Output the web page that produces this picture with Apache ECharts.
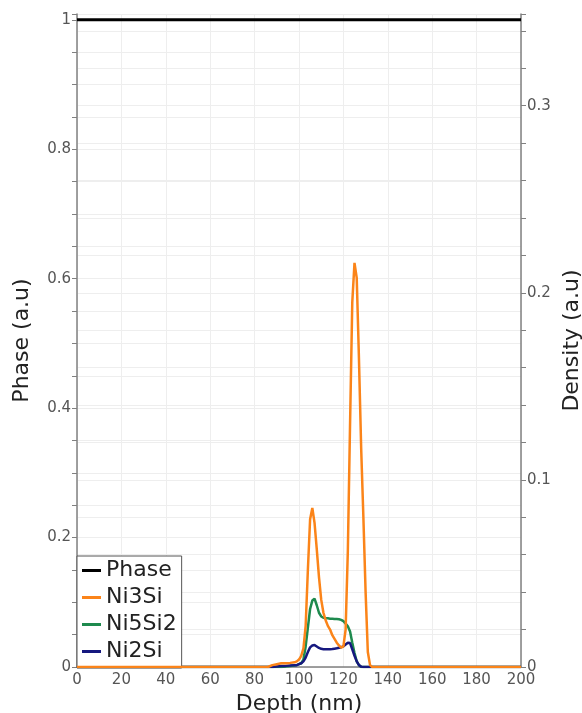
<!DOCTYPE html>
<html>
<head>
<meta charset="utf-8">
<script src="https://cdn.jsdelivr.net/npm/echarts/dist/echarts.min.js"></script>
<style>
  html, body { margin: 0; padding: 0; background: #fff; }
  #chart { width: 582px; height: 713px; }
</style>
</head>
<body>
<div id="chart"></div>
<script>
// depth in nm, shared by the three density curves
const depth = [0, 86, 88, 90, 92, 94, 96, 98, 99, 100, 101, 102, 103, 104, 105, 106, 107, 108, 109, 110,
  111, 112, 113, 114, 115, 116, 117, 118, 119, 120, 121, 122, 123, 124, 125, 126, 127, 128, 129, 130,
  131, 132, 133, 200];

const ni3si = [0, 0, 0.001, 0.0015, 0.002, 0.002, 0.0022, 0.0025, 0.003, 0.004, 0.006, 0.01, 0.022, 0.052, 0.079, 0.085, 0.077, 0.063, 0.048, 0.036,
  0.029, 0.025, 0.022, 0.02, 0.017, 0.015, 0.013, 0.0115, 0.0103, 0.011, 0.02, 0.062, 0.13, 0.195, 0.216, 0.208, 0.165, 0.117, 0.08, 0.04,
  0.008, 0.001, 0, 0];

const ni5si2 = [0, 0, 0, 0, 0, 0.0003, 0.0005, 0.0008, 0.001, 0.0015, 0.002, 0.004, 0.011, 0.021, 0.031, 0.0355, 0.0365, 0.033, 0.029, 0.027,
  0.0263, 0.026, 0.026, 0.0258, 0.0258, 0.0257, 0.0256, 0.0255, 0.0252, 0.0245, 0.0232, 0.0218, 0.019, 0.013, 0.0075, 0.003, 0.001, 0, 0, 0,
  0, 0, 0, 0];

const ni2si = [0, 0, 0, 0.0003, 0.0005, 0.0006, 0.0008, 0.001, 0.001, 0.0015, 0.002, 0.003, 0.005, 0.008, 0.0105, 0.0115, 0.0118, 0.011, 0.0102, 0.0097,
  0.0095, 0.0095, 0.0095, 0.0095, 0.0096, 0.0098, 0.01, 0.0103, 0.0106, 0.011, 0.012, 0.013, 0.0128, 0.0095, 0.006, 0.003, 0.001, 0.0002, 0, 0,
  0, 0, 0, 0];

const phaseDepth = [0, 200];
const phase = [1, 1];

const font = 'DejaVu Sans';
const gridColor = '#eeeeee';
const axisColor = '#808080';

const pairs = (xs, ys) => xs.map((x, i) => [x, ys[i]]);

const chart = echarts.init(document.getElementById('chart'));

const option = {
  animation: false,
  textStyle: { fontFamily: font },
  grid: { left: 77, right: 61, top: 14, bottom: 46, outerBoundsMode: 'none', containLabel: false },
  legend: {
    orient: 'vertical',
    left: 77,
    top: 556,
    data: ['Phase', 'Ni3Si', 'Ni5Si2', 'Ni2Si'],
    icon: 'rect',
    itemWidth: 19,
    itemHeight: 3,
    itemGap: 0,
    padding: [1, 5, 3, 5],
    backgroundColor: '#fff',
    borderColor: '#555',
    borderWidth: 1,
    textStyle: { fontSize: 22, lineHeight: 27, color: '#222', fontFamily: font }
  },
  xAxis: {
    type: 'value',
    min: 0,
    max: 200,
    interval: 20,
    name: 'Depth (nm)',
    nameLocation: 'middle',
    nameGap: 26,
    nameTextStyle: { fontSize: 22, color: '#222', fontFamily: font },
    axisLine: { lineStyle: { color: axisColor, width: 1.5 } },
    axisTick: { show: false },
    axisLabel: { fontSize: 15, color: '#555', margin: 6 },
    splitLine: { show: true, lineStyle: { color: gridColor } }
  },
  yAxis: [
    {
      type: 'value',
      min: 0,
      max: 1.009,
      interval: 0.2,
      name: 'Phase (a.u)',
      nameLocation: 'middle',
      nameGap: 44,
      nameTextStyle: { fontSize: 22, color: '#222', fontFamily: font },
      axisLine: { show: true, lineStyle: { color: axisColor, width: 1.5 } },
      axisTick: { show: true, length: 5, lineStyle: { color: axisColor } },
      minorTick: { show: true, splitNumber: 4, length: 5, lineStyle: { color: axisColor } },
      axisLabel: { fontSize: 15, color: '#555', margin: 6, showMaxLabel: false },
      splitLine: { show: true, lineStyle: { color: gridColor } },
      minorSplitLine: { show: true, lineStyle: { color: gridColor } }
    },
    {
      type: 'value',
      min: 0,
      max: 0.349,
      interval: 0.1,
      position: 'right',
      name: 'Density (a.u)',
      nameLocation: 'middle',
      nameGap: 40,
      nameTextStyle: { fontSize: 22, color: '#222', fontFamily: font },
      axisLine: { show: true, lineStyle: { color: axisColor, width: 1.5 } },
      axisTick: { show: true, length: 5, lineStyle: { color: axisColor } },
      minorTick: { show: true, splitNumber: 5, length: 5, lineStyle: { color: axisColor } },
      axisLabel: { fontSize: 15, color: '#555', margin: 6, showMaxLabel: false },
      splitLine: { show: true, lineStyle: { color: gridColor } },
      minorSplitLine: { show: true, lineStyle: { color: gridColor } }
    }
  ],
  series: [
    {
      name: 'Phase',
      type: 'line',
      yAxisIndex: 0,
      showSymbol: false,
      z: 5,
      data: pairs(phaseDepth, phase),
      itemStyle: { color: '#000' },
      lineStyle: { color: '#000', width: 3 }
    },
    {
      name: 'Ni5Si2',
      type: 'line',
      yAxisIndex: 1,
      showSymbol: false,
      z: 2,
      data: pairs(depth, ni5si2),
      itemStyle: { color: '#1e8a4e' },
      lineStyle: { color: '#1e8a4e', width: 2.5 }
    },
    {
      name: 'Ni2Si',
      type: 'line',
      yAxisIndex: 1,
      showSymbol: false,
      z: 3,
      data: pairs(depth, ni2si),
      itemStyle: { color: '#16187f' },
      lineStyle: { color: '#16187f', width: 2.5 }
    },
    {
      name: 'Ni3Si',
      type: 'line',
      yAxisIndex: 1,
      showSymbol: false,
      z: 4,
      data: pairs(depth, ni3si),
      itemStyle: { color: '#fb8419' },
      lineStyle: { color: '#fb8419', width: 2.5 }
    }
  ]
};

option && chart.setOption(option);
</script>
</body>
</html>
